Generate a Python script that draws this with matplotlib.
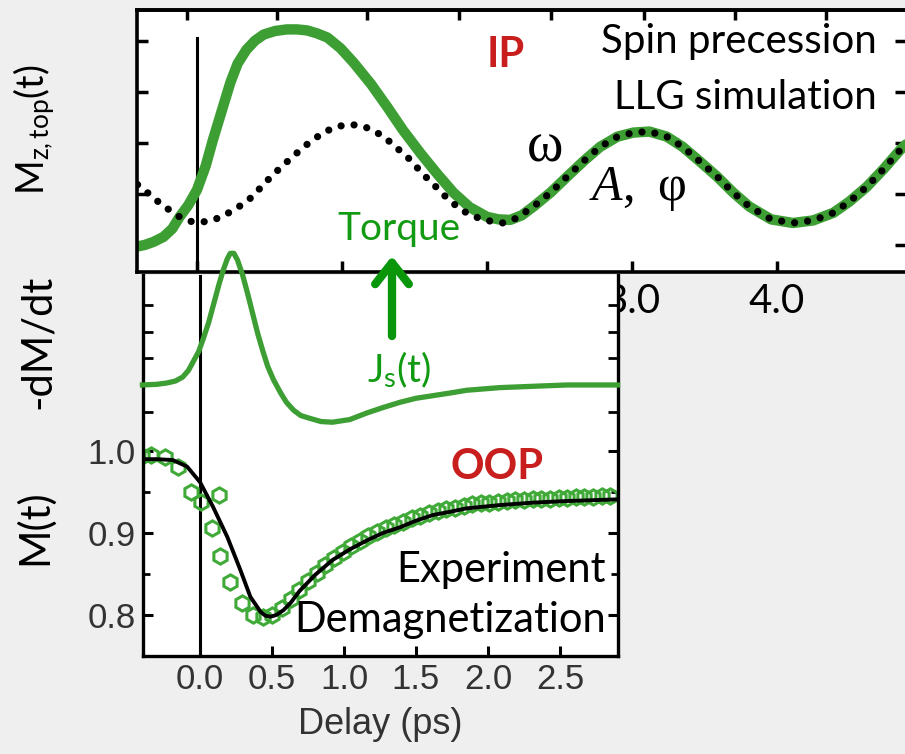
import matplotlib
matplotlib.use("Agg")
import matplotlib.pyplot as plt

plt.rcParams['mathtext.fontset'] = 'custom'
plt.rcParams['mathtext.rm'] = 'Lato'
plt.rcParams['mathtext.it'] = 'Liberation Serif:italic'

# ---- top panel: in-plane spin precession (LLG simulation + damped fit) ----
t_sim = [-0.41, -0.36, -0.30, -0.23, -0.17, -0.12, -0.06, 0.00, 0.06, 0.11,
         0.17, 0.23, 0.28, 0.34, 0.40, 0.46, 0.54, 0.62, 0.69, 0.76,
         0.83, 0.90, 0.99, 1.08, 1.20, 1.31, 1.42, 1.54, 1.66, 1.77,
         1.88, 2.00, 2.08, 2.16, 2.24, 2.32, 2.44, 2.55, 2.67, 2.78,
         2.90, 3.01, 3.12, 3.24, 3.35, 3.47, 3.59, 3.70, 3.81, 3.96,
         4.11, 4.25, 4.39, 4.50, 4.62, 4.74, 4.85, 4.92]
mz_sim = [-0.03, 0.00, 0.06, 0.16, 0.32, 0.55, 0.78, 1.08, 1.55, 2.06,
          2.62, 3.18, 3.55, 3.82, 4.00, 4.12, 4.19, 4.22, 4.22, 4.20,
          4.14, 4.06, 3.85, 3.57, 3.15, 2.71, 2.25, 1.80, 1.38, 1.02,
          0.74, 0.55, 0.50, 0.49, 0.58, 0.75, 1.03, 1.33, 1.65, 1.92,
          2.12, 2.20, 2.22, 2.12, 1.92, 1.63, 1.33, 1.02, 0.75, 0.50,
          0.43, 0.48, 0.63, 0.85, 1.14, 1.50, 1.86, 2.05]

t_prec = [-0.41, -0.34, -0.24, -0.12, -0.04, 0.04, 0.10, 0.17, 0.28, 0.38,
          0.47, 0.56, 0.66, 0.75, 0.87, 0.95, 1.02, 1.09, 1.16, 1.28,
          1.37, 1.47, 1.55, 1.64, 1.73, 1.83, 1.97, 2.11, 2.20, 2.32,
          2.44, 2.55, 2.67, 2.78, 2.90, 3.01, 3.12, 3.24, 3.35, 3.47,
          3.59, 3.70, 3.81, 3.96, 4.11, 4.25, 4.39, 4.50, 4.62, 4.74,
          4.85, 4.92]
mz_prec = [1.18, 1.02, 0.78, 0.55, 0.46, 0.45, 0.48, 0.55, 0.73, 0.94,
           1.22, 1.47, 1.73, 1.95, 2.20, 2.30, 2.35, 2.35, 2.31, 2.14,
           1.92, 1.67, 1.41, 1.16, 0.90, 0.67, 0.49, 0.43, 0.52, 0.75,
           1.03, 1.33, 1.65, 1.92, 2.12, 2.20, 2.22, 2.12, 1.92, 1.63,
           1.33, 1.02, 0.75, 0.50, 0.43, 0.48, 0.63, 0.85, 1.14, 1.50,
           1.86, 2.05]

top_xticks = [0, 1, 2, 3, 4]
top_xticklabels = ["0.0", "1.0", "2.0", "3.0", "4.0"]
top_edge_ticks = [-0.07, 0.55, 1.17, 1.81, 2.44, 3.08, 3.71, 4.34]
top_yticks = [0, 1, 2, 3, 4]

# ---- bottom panel: out-of-plane demagnetization ----
t_dmdt = [-0.40, -0.30, -0.23, -0.17, -0.12, -0.08, -0.05, -0.01, 0.02, 0.06,
          0.09, 0.13, 0.16, 0.19, 0.21, 0.235, 0.26, 0.295, 0.33, 0.365,
          0.40, 0.435, 0.47, 0.51, 0.56, 0.60, 0.65, 0.70, 0.76, 0.84,
          0.92, 1.04, 1.16, 1.27, 1.39, 1.50, 1.62, 1.74, 1.85, 2.08,
          2.31, 2.55, 2.90]
dmdt = [0.00, 0.005, 0.015, 0.03, 0.06, 0.11, 0.17, 0.25, 0.34, 0.47,
        0.59, 0.75, 0.86, 0.95, 0.99, 0.99, 0.94, 0.83, 0.69, 0.54,
        0.39, 0.26, 0.14, 0.04, -0.06, -0.13, -0.19, -0.23, -0.25, -0.275,
        -0.28, -0.26, -0.21, -0.17, -0.13, -0.10, -0.08, -0.06, -0.04, -0.02,
        -0.01, 0.00, 0.00]
dmdt_ticks = [-0.2, 0.0, 0.2, 0.4, 0.6]

t_exp = [-0.40, -0.34, -0.24, -0.15, -0.06, 0.01, 0.13, 0.08, 0.14, 0.21,
         0.29, 0.37, 0.44, 0.50, 0.57, 0.63, 0.69, 0.75, 0.81, 0.87,
         0.93, 0.99, 1.05, 1.11, 1.17, 1.23, 1.29, 1.35, 1.41, 1.47,
         1.53, 1.59, 1.65, 1.71, 1.77, 1.83, 1.89, 1.95, 2.01, 2.07,
         2.13, 2.19, 2.25, 2.31, 2.37, 2.43, 2.49, 2.55, 2.61, 2.67,
         2.73, 2.79, 2.85]
m_exp = [0.994, 0.995, 0.993, 0.981, 0.950, 0.938, 0.946, 0.906, 0.872, 0.840,
         0.815, 0.800, 0.797, 0.800, 0.809, 0.819, 0.830, 0.841, 0.851, 0.861,
         0.869, 0.877, 0.884, 0.890, 0.896, 0.901, 0.906, 0.910, 0.914, 0.918,
         0.921, 0.924, 0.927, 0.929, 0.931, 0.933, 0.935, 0.936, 0.937, 0.938,
         0.939, 0.940, 0.940, 0.941, 0.942, 0.942, 0.943, 0.943, 0.944, 0.944,
         0.944, 0.945, 0.945]

t_fit = [-0.40, -0.30, -0.19, -0.09, 0.00, 0.09, 0.19, 0.28, 0.35, 0.42,
         0.455, 0.49, 0.53, 0.58, 0.63, 0.69, 0.80, 0.92, 1.04, 1.16,
         1.27, 1.39, 1.50, 1.62, 1.74, 1.85, 2.08, 2.31, 2.55, 2.90]
m_fit = [0.990, 0.990, 0.989, 0.981, 0.962, 0.932, 0.895, 0.855, 0.822, 0.804,
         0.799, 0.798, 0.800, 0.806, 0.815, 0.829, 0.849, 0.867, 0.880, 0.891,
         0.900, 0.907, 0.915, 0.922, 0.926, 0.930, 0.934, 0.937, 0.939, 0.941]

bot_xticks = [0.0, 0.5, 1.0, 1.5, 2.0, 2.5]
bot_yticks = [0.8, 0.9, 1.0]
bot_yminor = [0.85, 0.95]

GREEN = '#3c9e33'
GREEN_TXT = '#129a12'
RED = '#c81e1e'
BG = '#f0eff0'
W, H = 905, 754

fig = plt.figure(figsize=(W / 100, H / 100), dpi=100, facecolor=BG)

# top axes
ax_t = fig.add_axes([137 / W, 1 - 272 / H, 769 / W, 262 / H])
ax_t.set_zorder(1)
ax_t.set_facecolor('white')
ax_t.plot(t_sim, mz_sim, color=GREEN, lw=7.5, solid_capstyle='round',
          solid_joinstyle='round', zorder=2)
ax_t.plot(t_prec, mz_prec, color='black', lw=5.2, linestyle=(0, (0.01, 1.8)),
          dash_capstyle='round', zorder=3)
ax_t.axvline(0, ymax=0.895, color='black', lw=2.2, zorder=1)
ax_t.set_xlim(-0.414, 4.89)
ax_t.set_ylim(-0.53, 4.6)
ax_t.set_xticks(top_xticks)
ax_t.set_xticklabels(top_xticklabels, family='Lato', fontsize=29)
ax_t.set_yticks(top_yticks)
ax_t.set_yticklabels([])
ax_t.tick_params(direction='in', length=8, width=2.5, right=True, pad=8)
for s in ax_t.spines.values():
    s.set_linewidth(2.6)
sec = ax_t.secondary_xaxis('top')
sec.set_xticks(top_edge_ticks)
sec.set_xticklabels([])
sec.tick_params(direction='in', length=7, width=2.5)
sec.spines['top'].set_linewidth(2.6)

ax_t.text(0.48, 0.83, "IP", transform=ax_t.transAxes, color=RED, fontsize=30,
          fontweight='bold', family='Lato', ha='center', va='center')
ax_t.text(0.962, 0.88, "Spin precession", transform=ax_t.transAxes, fontsize=29,
          family='Lato', ha='right', va='center')
ax_t.text(0.962, 0.665, "LLG simulation", transform=ax_t.transAxes, fontsize=29,
          family='Lato', ha='right', va='center')
ax_t.text(0.53, 0.475, "ω", transform=ax_t.transAxes, fontsize=40,
          family='Liberation Serif', ha='center', va='center')
ax_t.text(0.588, 0.275, "$A$,\u2009 φ", transform=ax_t.transAxes, fontsize=36,
          family='Liberation Serif', ha='left', va='baseline')
ax_t.text(0.34, 0.165, "Torque", transform=ax_t.transAxes, color=GREEN_TXT,
          fontsize=28, family='Lato', ha='center', va='center')

# bottom axes
ax_b = fig.add_axes([143 / W, 1 - 656 / H, 475 / W, 381 / H])
ax_b.set_zorder(2)
ax_b.set_facecolor('white')
ax_b.plot(t_exp, m_exp, linestyle='none', marker='h', ms=11, mfc='none',
          mec='#40aa38', mew=2.2, zorder=2)
ax_b.plot(t_fit, m_fit, color='black', lw=2.8, solid_joinstyle='round', zorder=3)
ax_b.axvline(0, color='black', lw=2.2, zorder=1)
ax_b.set_xlim(-0.396, 2.903)
ax_b.set_ylim(0.75, 1.2146)
ax_b.set_xticks(bot_xticks)
ax_b.set_xticklabels([f"{v:.1f}" for v in bot_xticks], family='Liberation Sans',
                     fontsize=25, color='#333333')
ax_b.set_yticks(bot_yticks)
ax_b.set_yticklabels([f"{v:.1f}" for v in bot_yticks], family='Liberation Sans',
                     fontsize=25, color='#333333')
ax_b.set_yticks(bot_yminor, minor=True)
ax_b.tick_params(direction='in', length=7, width=2.2, right=True, pad=5)
ax_b.tick_params(which='minor', direction='in', length=5, width=2.0, right=True)
ax_b.spines['top'].set_visible(False)
for k in ('left', 'right', 'bottom'):
    ax_b.spines[k].set_linewidth(2.4)
ax_b.set_xlabel("Delay (ps)", family='Liberation Sans', fontsize=26,
                color='#333333', labelpad=8)

ax_b.text(0.745, 0.495, "OOP", transform=ax_b.transAxes, color=RED, fontsize=30,
          fontweight='bold', family='Lato', ha='center', va='center')
ax_b.text(0.975, 0.225, "Experiment", transform=ax_b.transAxes, fontsize=30,
          family='Lato', ha='right', va='center')
ax_b.text(0.975, 0.095, "Demagnetization", transform=ax_b.transAxes, fontsize=30,
          family='Lato', ha='right', va='center')

# -dM/dt overlay sharing the bottom frame
ax_d = fig.add_axes(ax_b.get_position())
ax_d.set_zorder(3)
ax_d.set_frame_on(False)
ax_d.patch.set_visible(False)
ax_d.plot(t_dmdt, dmdt, color=GREEN, lw=3.8, solid_joinstyle='round',
          clip_on=False)
ax_d.set_xlim(-0.396, 2.903)
ax_d.set_ylim(-2.038, 0.827)
ax_d.set_xticks([])
ax_d.set_yticks(dmdt_ticks)
ax_d.set_yticklabels([])
ax_d.tick_params(direction='in', length=7, width=2.0, right=True)

ax_d.text(0.54, 0.75, "J$_\\mathregular{s}$(t)", transform=ax_d.transAxes,
          color=GREEN_TXT, fontsize=28, family='Lato', ha='center', va='center')
ax_d.annotate("", xy=(392 / W, 1 - 256 / H), xytext=(392 / W, 1 - 336 / H),
              xycoords='figure fraction', textcoords='figure fraction',
              arrowprops=dict(arrowstyle='->,head_length=0.7,head_width=0.55',
                              color='#0a960a', lw=6, mutation_scale=22,
                              shrinkA=0, shrinkB=0, capstyle='round'))

# panel labels
fig.text(34 / W, 1 - 130 / H, "M$_\\mathregular{z,top}$(t)", rotation=90,
         ha='center', va='center', family='Lato', fontsize=27)
fig.text(38 / W, 1 - 342 / H, "-dM/dt", rotation=90, ha='center', va='center',
         family='Lato', fontsize=30)
fig.text(34 / W, 1 - 527 / H, "M(t)", rotation=90, ha='center', va='center',
         family='Lato', fontsize=30)

fig.savefig("out.png", dpi=100, facecolor=BG)
